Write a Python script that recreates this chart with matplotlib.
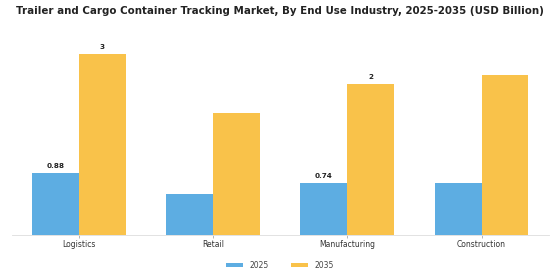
import matplotlib.pyplot as plt
import numpy as np

# Data
categories = ['Logistics', 'Retail', 'Manufacturing', 'Construction']
values_2025 = [0.88, 0.59, 0.74, 0.74]
values_2035 = [2.58, 1.74, 2.16, 2.28]
labels_2025 = ['0.88', '', '0.74', '']
labels_2035 = ['3', '', '2', '']

fig = plt.figure(figsize=(5.6, 2.8), dpi=100)
ax = fig.add_axes([0.0207, 0.161, 0.959, 0.71])

x = np.arange(len(categories))
w = 0.35
b1 = ax.bar(x - w / 2, values_2025, w, color='#5DADE2', label='2025')
b2 = ax.bar(x + w / 2, values_2035, w, color='#F9C24A', label='2035')

# value labels on some bars
for rect, txt in zip(b1, labels_2025):
    if txt:
        ax.text(rect.get_x() + rect.get_width() / 2, rect.get_height() + 0.06, txt,
                ha='center', va='bottom', fontsize=5.2, fontweight='bold', color='#222222')
for rect, txt in zip(b2, labels_2035):
    if txt:
        ax.text(rect.get_x() + rect.get_width() / 2, rect.get_height() + 0.06, txt,
                ha='center', va='bottom', fontsize=5.2, fontweight='bold', color='#222222')

ax.set_xlim(-0.5, 3.5)
ax.set_ylim(0, 2.84)
ax.set_xticks(x)
ax.set_xticklabels(categories, fontsize=5.5, color='#333333')
ax.set_yticks([])
ax.tick_params(axis='x', length=2, width=0.5, color='#999999', pad=2)
for s in ['top', 'right', 'left']:
    ax.spines[s].set_visible(False)
ax.spines['bottom'].set_color('#dddddd')
ax.spines['bottom'].set_linewidth(0.6)

fig.text(0.5, 0.961, 'Trailer and Cargo Container Tracking Market, By End Use Industry, 2025-2035 (USD Billion)',
         ha='center', va='center', fontsize=7.35, fontweight='bold', color='#222222')

fig.legend(loc='center', bbox_to_anchor=(0.5, 0.053), ncol=2, frameon=False, fontsize=5.5,
           handlelength=2.2, handleheight=0.6, columnspacing=3, labelcolor='#444444')

fig.savefig('out.png', dpi=100)
